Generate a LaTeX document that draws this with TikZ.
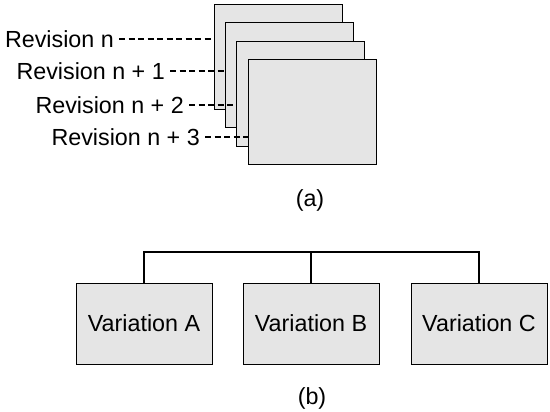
\documentclass[tikz,border=0pt]{standalone}
\usepackage{fontspec}
\setmainfont{Liberation Sans}
\usetikzlibrary{positioning}
\begin{document}
\begin{tikzpicture}[x=1pt,y=-1pt,every node/.append style={font=\fontsize{23.3}{27}\selectfont}]
        \useasboundingbox (0,0) rectangle (550,412);

        \begin{scope}[every node/.style={draw, fill=black!10, line width=1pt, inner sep=0pt, minimum width=128pt, minimum height=105pt}]
          \node (r1) at (278,57.5)  {};
          \node (r2) at (289.5,75.5)  {};
          \node (r3) at (300,94)  {};
          \node (r4) at (312,112)  {};
        \end{scope}

        \begin{scope}[every node/.style={anchor=east, inner xsep=5pt, inner ysep=0pt, font=\fontsize{23.3}{27}\selectfont}]
          \node (l1) at (119,39)  {Revision n};
          \node (l2) at (170,71)  {Revision n + 1};
          \node (l3) at (189,105)  {Revision n + 2};
          \node (l4) at (205,137)  {Revision n + 3};
        \end{scope}

        \begin{scope}[every edge/.style={draw, line width=1.1pt, dash pattern=on 6pt off 3.5pt}]
          \path (l1)  edge (l1 -| r1.west);
          \path (l2)  edge (l2 -| r2.west);
          \path (l3)  edge (l3 -| r3.west);
          \path (l4)  edge (l4 -| r4.west);
        \end{scope}

        \node (capa) at (310,200) {(a)};

        \begin{scope}[every node/.style={draw, fill=black!10, line width=1pt, minimum width=136pt, minimum height=81pt, font=\fontsize{23.3}{27}\selectfont}]
          \node (va) at (144,323.5)  {Variation A};
          \node (vb) at (311,323.5)  {Variation B};
          \node (vc) at (479,323.5)  {Variation C};
        \end{scope}

        \coordinate (top) at (311,252);
        \draw[line width=2pt] (va.north) |- (top) -| (vc.north);
        \path (vb)  edge[line width=2pt] (top);

        \node (capb) at (312,398) {(b)};

      \end{tikzpicture}
\end{document}
